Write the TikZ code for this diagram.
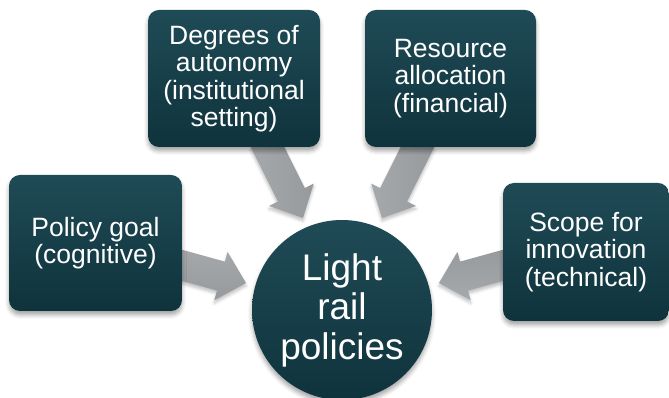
\documentclass[tikz,border=0pt]{standalone}
\usepackage{fontspec}
\setmainfont{Liberation Sans}
\usetikzlibrary{calc,shadows.blur}

\definecolor{boxtop}{RGB}{31,75,86}
\definecolor{boxbot}{RGB}{15,51,60}
\definecolor{arrowA}{RGB}{166,169,171}
\definecolor{arrowB}{RGB}{150,154,156}

\tikzset{
  softshadow/.style={blur shadow={shadow xshift=0pt, shadow yshift=-4pt,
      shadow blur radius=4pt, shadow opacity=35}},
  factorbox/.style={draw=none, rounded corners=11pt, top color=boxtop,
      bottom color=boxbot, text=white, align=center, inner sep=2pt,
      font=\fontsize{26.5}{27.5}\selectfont, softshadow},
  hubcircle/.style={circle, draw=none, top color=boxtop, bottom color=boxbot,
      text=white, align=center, minimum size=180pt, inner sep=0pt,
      font=\fontsize{37}{39.5}\selectfont, softshadow},
  arrowbody/.style={left color=arrowA, right color=arrowB,
      blur shadow={shadow xshift=0pt, shadow yshift=-3pt,
      shadow blur radius=3pt, shadow opacity=25}}
}

% block arrow from #1 (tail) to #2 (tip), shaded along angle #3
\newcommand\blockarrow[3]{%
  \coordinate (#1-b) at ($(#2)!26pt!(#1)$);
  \path[arrowbody, shading angle=#3]
    ($(#1)!15pt!90:(#2)$) -- ($(#1-b)!15pt!-90:(#1)$)
    -- ($(#1-b)!25pt!-90:(#1)$) -- (#2)
    -- ($(#1-b)!25pt!90:(#1)$) -- ($(#1-b)!15pt!90:(#1)$)
    -- ($(#1)!15pt!-90:(#2)$) -- cycle;
}

\begin{document}
\begin{tikzpicture}[x=1pt,y=1pt]
\useasboundingbox (0,0) rectangle (669,398);

% arrow tails and tips
\coordinate (tl) at (170,136);  \coordinate (hl) at (246,115);
\coordinate (tul) at (264,258); \coordinate (hul) at (303,180);
\coordinate (tur) at (421,258); \coordinate (hur) at (382,180);
\coordinate (tr) at (515,136);  \coordinate (hr) at (439,115);

\blockarrow{tl}{hl}{0}
\blockarrow{tul}{hul}{90}
\blockarrow{tur}{hur}{90}
\blockarrow{tr}{hr}{180}

% factor boxes
\node[factorbox, minimum width=173pt, minimum height=136pt] (goal)
  at (95.5,155) {Policy goal\\(cognitive)};
\node[factorbox, minimum width=172pt, minimum height=137pt] (autonomy)
  at (234,319.5) {Degrees of\\autonomy\\(institutional\\setting)};
\node[factorbox, minimum width=171pt, minimum height=137pt] (resource)
  at (450.5,319.5) {Resource\\allocation\\(financial)};
\node[factorbox, minimum width=166pt, minimum height=138pt] (scope)
  at (586,146) {Scope for\\innovation\\(technical)};

% central circle
\node[hubcircle] (hub) at (342,88) {Light\\rail\\policies};
\end{tikzpicture}
\end{document}
